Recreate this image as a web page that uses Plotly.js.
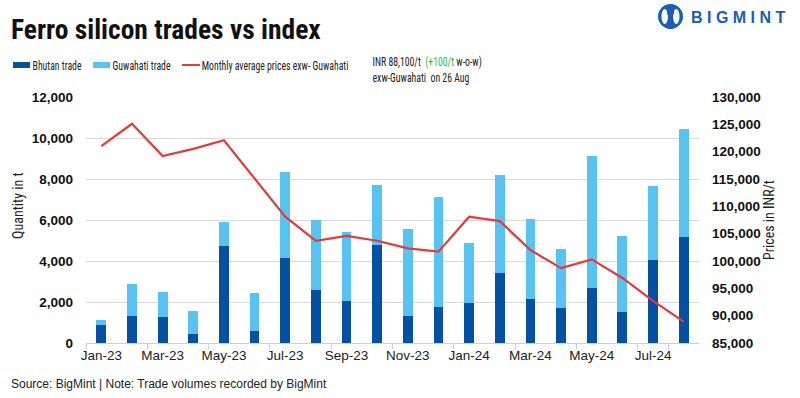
<!DOCTYPE html>
<html>
<head>
<meta charset="utf-8">
<script src="https://cdn.plot.ly/plotly-3.0.1.min.js"></script>
<style>html,body{margin:0;padding:0;background:#fff;}#chart{width:800px;height:398px;}</style>
</head>
<body>
<div id="chart"></div>
<script>
const months = ["Jan-23","Feb-23","Mar-23","Apr-23","May-23","Jun-23","Jul-23","Aug-23","Sep-23","Oct-23","Nov-23","Dec-23","Jan-24","Feb-24","Mar-24","Apr-24","May-24","Jun-24","Jul-24","Aug-24"];
const bhutanTrade = [890,1330,1280,450,4730,600,4150,2590,2060,4780,1330,1770,1960,3420,2160,1720,2690,1520,4050,5170];
const guwahatiTrade = [240,1560,1220,1120,1170,1850,4190,3410,3360,2920,4230,5350,2920,4770,3890,2870,6430,3700,3610,5260];
const avgPrice = [121000,125100,119200,120500,122100,115100,108100,103700,104600,103700,102300,101700,108100,107300,102000,98700,100300,96900,92700,88900];
const tickLabels = ["Jan-23","Mar-23","May-23","Jul-23","Sep-23","Nov-23","Jan-24","Mar-24","May-24","Jul-24"];

const DARK = "#0450A3", LIGHT = "#56C3F1", RED = "#E8383B", LOGO = "#1A5CB8";
const narrow = "'Roboto Condensed', 'Liberation Sans', Arial, sans-serif";
const sans = "'Liberation Sans', Arial, sans-serif";

const traces = [
  {type:"bar", name:"Bhutan trade", x:months, y:bhutanTrade, marker:{color:DARK}, showlegend:false},
  {type:"bar", name:"Guwahati trade", x:months, y:guwahatiTrade, marker:{color:LIGHT}, showlegend:false},
  {type:"scatter", mode:"lines", name:"Monthly average prices exw- Guwahati", x:months, y:avgPrice, yaxis:"y2",
   line:{color:RED, width:2.2}, showlegend:false}
];

const W = 800, H = 398, L = 86, R = 101, T = 97, B = 55;
const pw = W - L - R, ph = H - T - B;
const px = v => (v - L) / pw;
const py = v => (H - B - v) / ph;

const shapes = [
  {type:"rect", xref:"paper", yref:"paper", x0:px(13), x1:px(30), y0:py(68), y1:py(62), fillcolor:DARK, line:{width:0}},
  {type:"rect", xref:"paper", yref:"paper", x0:px(93), x1:px(110), y0:py(68), y1:py(62), fillcolor:LIGHT, line:{width:0}},
  {type:"line", xref:"paper", yref:"paper", x0:px(182), x1:px(200), y0:py(65), y1:py(65), line:{color:RED, width:2}},
  {type:"circle", xref:"paper", yref:"paper", x0:px(658), x1:px(683), y0:py(29), y1:py(4), line:{width:0}, fillcolor:LOGO},
  {type:"circle", xref:"paper", yref:"paper", x0:px(661.5), x1:px(668), y0:py(24), y1:py(9), line:{width:0}, fillcolor:"#fff"},
  {type:"circle", xref:"paper", yref:"paper", x0:px(673), x1:px(679.5), y0:py(24), y1:py(9), line:{width:0}, fillcolor:"#fff"},
  {type:"circle", xref:"paper", yref:"paper", x0:px(667), x1:px(674), y0:py(16), y1:py(9), line:{width:0}, fillcolor:LOGO},
  {type:"rect", xref:"paper", yref:"paper", x0:px(668.5), x1:px(672.5), y0:py(29), y1:py(17), line:{width:0}, fillcolor:LOGO}
];

const smallFont = {family:narrow, size:12.5, color:"#222"};
const annotations = [
  {xref:"paper", yref:"paper", x:px(9), y:py(30), xanchor:"left", yanchor:"middle", showarrow:false,
   text:"<b>Ferro silicon trades vs index</b>", font:{family:narrow, size:27.5, color:"#111"}},
  {xref:"paper", yref:"paper", x:px(31), y:py(65), xanchor:"left", yanchor:"middle", showarrow:false,
   text:"Bhutan trade", font:smallFont, condensed:true},
  {xref:"paper", yref:"paper", x:px(111), y:py(65), xanchor:"left", yanchor:"middle", showarrow:false,
   text:"Guwahati trade", font:smallFont, condensed:true},
  {xref:"paper", yref:"paper", x:px(200), y:py(65), xanchor:"left", yanchor:"middle", showarrow:false,
   text:"Monthly average prices exw- Guwahati", font:smallFont, condensed:true},
  {xref:"paper", yref:"paper", x:px(371), y:py(70), xanchor:"left", yanchor:"middle", showarrow:false, align:"left",
   text:"INR 88,100/t  <span style='color:#2DB83D'>(+100/t</span> w-o-w)<br>exw-Guwahati  on 26 Aug", font:smallFont, condensed:true},
  {xref:"paper", yref:"paper", x:px(689), y:py(17), xanchor:"left", yanchor:"middle", showarrow:false,
   text:"<b>B I G M I N T</b>", font:{family:sans, size:16, color:LOGO}},
  {xref:"paper", yref:"paper", x:px(18), y:py(206), xanchor:"center", yanchor:"middle", showarrow:false, textangle:-90,
   text:"Quantity in t", font:{family:narrow, size:14, color:"#222"}},
  {xref:"paper", yref:"paper", x:px(9), y:py(384), xanchor:"left", yanchor:"middle", showarrow:false,
   text:"Source: BigMint | Note: Trade volumes recorded by BigMint", font:{family:sans, size:12, color:"#222"}}
];
const condensedIdx = annotations.map((a,i)=>a.condensed?i:-1).filter(i=>i>=0);
annotations.forEach(a=>delete a.condensed);

const layout = {
  width:W, height:H,
  margin:{l:L, r:R, t:T, b:B, pad:0},
  paper_bgcolor:"#fff", plot_bgcolor:"#fff",
  barmode:"stack", bargap:0.68,
  showlegend:false,
  xaxis:{type:"category", tickmode:"array", tickvals:tickLabels, ticktext:tickLabels, tickangle:0,
    tickson:"boundaries", ticks:"outside", ticklen:5, tickcolor:"#d0d0d0",
    showline:true, linecolor:"#d0d0d0", linewidth:1, showgrid:false, zeroline:false,
    tickfont:{family:sans, size:13.5, color:"#222"}},
  yaxis:{range:[0,12000], dtick:2000, tickformat:",d", showgrid:true, gridcolor:"#d9d9d9", gridwidth:1,
    zeroline:false, showline:false, ticks:"", ticklabelstandoff:12,
    tickfont:{family:sans, size:13.5, color:"#111", weight:"bold"}},
  yaxis2:{overlaying:"y", side:"right", range:[85000,130000], dtick:5000, tickformat:",d", showgrid:false,
    zeroline:false, showline:false, ticks:"", ticklabelstandoff:12,
    tickfont:{family:sans, size:13.5, color:"#111", weight:"bold"},
    title:{text:"Prices in INR/t", font:{family:narrow, size:14, color:"#222"}, standoff:4}},
  shapes:shapes, annotations:annotations
};

Plotly.newPlot("chart", traces, layout, {displayModeBar:false, staticPlot:true}).then(gd => {
  // horizontally condense the small texts (the reference uses a very narrow face)
  gd.querySelectorAll("g.annotation").forEach(g => {
    const idx = +g.getAttribute("data-index");
    if (condensedIdx.includes(idx)) {
      const t = g.querySelector("text");
      if (t) t.setAttribute("transform", "scale(0.78,1)");
    }
  });
});
</script>
</body>
</html>
